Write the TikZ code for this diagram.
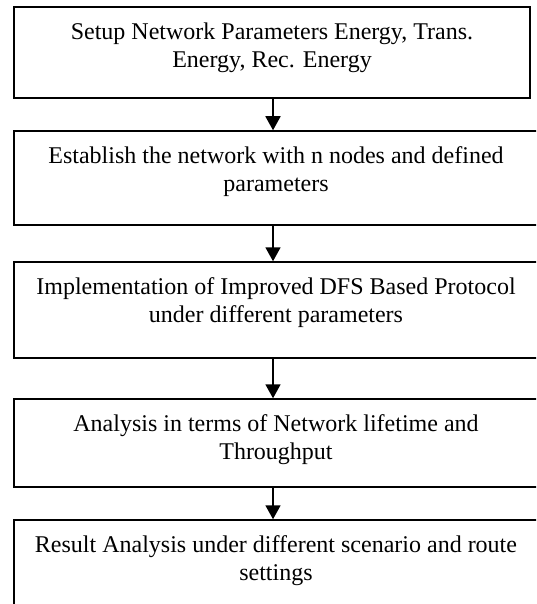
\documentclass[tikz,border=0pt]{standalone}
\usepackage{fontspec}
\setmainfont{Liberation Serif}
\usetikzlibrary{arrows.meta}

\tikzset{
  stepbox/.style={draw=black, line width=1.5pt, rectangle, inner sep=0pt},
  steptext/.style={anchor=north, inner sep=0pt, align=center,
    font=\fontsize{24}{28}\selectfont},
  flowarrow/.style={draw=black, line width=1.8pt,
    -{Triangle[width=15pt,length=14pt]}}
}
\newcommand{\firstline}{\rule{0pt}{18pt}}

\begin{document}
\begin{tikzpicture}[x=1pt,y=1pt]
  \useasboundingbox (0,0) rectangle (536,-604);
  \clip (0,0) rectangle (536,-604);

  % process boxes
  \node[stepbox, minimum width=516pt, minimum height=91pt] (b1) at (272,-52.5) {};
  \node[stepbox, minimum width=524pt, minimum height=94pt] (b2) at (276,-178) {};
  \node[stepbox, minimum width=524pt, minimum height=96pt] (b3) at (276,-310) {};
  \node[stepbox, minimum width=524pt, minimum height=88pt] (b4) at (276,-443) {};
  \node[stepbox, minimum width=524pt, minimum height=100pt] (b5) at (276,-570) {};

  % box captions (first baseline 32pt below each box top)
  \node[steptext] (t1) at (272,-21)
    {\firstline Setup Network Parameters Energy, Trans.\\ Energy, Rec. Energy};
  \node[steptext] (t2) at (276,-145)
    {\firstline Establish the network with n nodes and defined\\ parameters};
  \node[steptext] (t3) at (276,-276)
    {\firstline Implementation of Improved DFS Based Protocol\\ under different parameters};
  \node[steptext] (t4) at (276,-413)
    {\firstline Analysis in terms of Network lifetime and\\ Throughput};
  \node[steptext] (t5) at (276,-534)
    {\firstline Result Analysis under different scenario and route\\ settings};

  % connectors
  \coordinate (ax) at (273,0);
  \draw[flowarrow] (ax |- b1.south) -- (ax |- b2.north);
  \draw[flowarrow] (ax |- b2.south) -- (ax |- b3.north);
  \draw[flowarrow] (ax |- b3.south) -- (ax |- b4.north);
  \draw[flowarrow] (ax |- b4.south) -- (ax |- b5.north);
\end{tikzpicture}
\end{document}
